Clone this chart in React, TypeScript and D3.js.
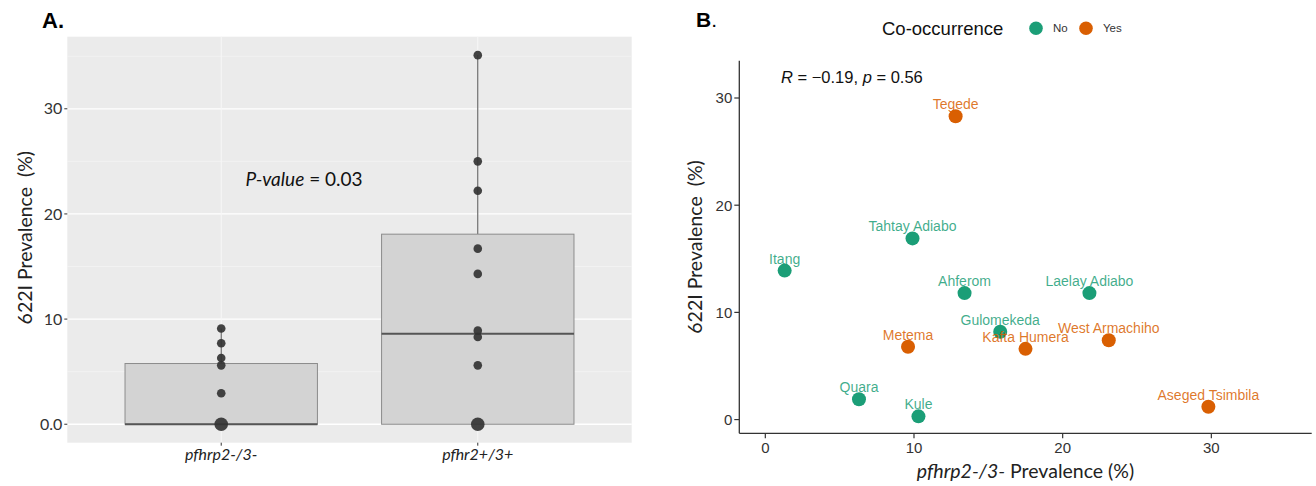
import React from "react";
import * as d3 from "d3";

// ---------- Panel A data ----------
const groups = ["pfhrp2-/3-", "pfhr2+/3+"];
const group1Values = [0, 0, 0, 0, 0, 0, 0, 2.95, 5.6, 6.3, 7.7, 9.1];
const group2Values = [0, 0, 0, 0, 5.6, 8.3, 8.9, 14.3, 16.7, 22.2, 25.0, 35.1];
const panelATicks = [0, 10, 20, 30];
const panelATickLabels = ["0.0", "10", "20", "30"];
const pValueText = "0.03";

// ---------- Panel B data ----------
const sites = ["Tegede", "Tahtay Adiabo", "Itang", "Ahferom", "Laelay Adiabo", "Gulomekeda", "Metema", "Kafta Humera", "West Armachiho", "Quara", "Kule", "Aseged Tsimbila"];
const deletionPrev = [12.8, 9.9, 1.3, 13.4, 21.8, 15.8, 9.6, 17.5, 23.1, 6.3, 10.3, 29.8];
const mutationPrev = [28.3, 16.9, 13.9, 11.8, 11.8, 8.2, 6.8, 6.6, 7.4, 1.9, 0.3, 1.2];
const coOccurrence = ["Yes", "No", "No", "No", "No", "No", "Yes", "Yes", "Yes", "No", "No", "Yes"];
const legendLevels = ["No", "Yes"];
const legendColors = ["#1b9e77", "#d95f02"];
const xLimitsB = [0, 35];
const rLabelY = 31.9;
const xTicksB = [0, 10, 20, 30];
const yTicksB = [0, 10, 20, 30];

const fontA = "Lato, 'Open Sans', sans-serif";
const fontB = "'Liberation Sans', Arial, sans-serif";
const yTitle = "622I Prevalence\u00a0\u00a0(%)";

export default function App() {
  // ----- Panel A scales -----
  const aLeft = 67.3, aRight = 631.7, aTop = 36.7, aBottom = 442.7;
  const allA = [...group1Values, ...group2Values];
  const maxA = d3.max(allA) as number;
  const minA = d3.min(allA) as number;
  const padA = 0.05 * (maxA - minA);
  const yA = d3.scaleLinear().domain([minA - padA, maxA + padA]).range([aBottom, aTop]);
  const xA = d3.scaleLinear().domain([0.4, 2.6]).range([aLeft, aRight]);
  const boxHalf = 0.375;
  const groupData = [group1Values, group2Values].map((vals, i) => {
    const s = [...vals].sort((a, b) => a - b);
    const q1 = d3.quantile(s, 0.25) as number;
    const med = d3.quantile(s, 0.5) as number;
    const q3 = d3.quantile(s, 0.75) as number;
    const iqr = q3 - q1;
    const hi = d3.max(s.filter((v) => v <= q3 + 1.5 * iqr)) as number;
    const lo = d3.min(s.filter((v) => v >= q1 - 1.5 * iqr)) as number;
    const counts = d3.rollups(s, (v) => v.length, (v) => v);
    return { i, q1, med, q3, hi, lo, counts };
  });
  const minorA = [5, 15, 25, 35];

  // ----- Panel B scales -----
  const bLeft = 739.3, bRight = 1311.7, bTop = 60.7, bBottom = 433.3;
  const padBx = 0.05 * (xLimitsB[1] - xLimitsB[0]);
  const xB = d3.scaleLinear().domain([xLimitsB[0] - padBx, xLimitsB[1] + padBx]).range([bLeft, bRight]);
  const yMinB = d3.min(mutationPrev) as number;
  const yMaxB = rLabelY;
  const padBy = 0.05 * (yMaxB - yMinB);
  const yB = d3.scaleLinear().domain([yMinB - padBy, yMaxB + padBy]).range([bBottom, bTop]);
  const color = d3.scaleOrdinal<string, string>().domain(legendLevels).range(legendColors);

  return (
    <svg width={1316} height={486} style={{ position: "absolute", left: 0, top: 0, background: "#fff" }}>
      {/* ===== Panel A ===== */}
      <text x={42} y={28} fontFamily={fontB} fontWeight="bold" fontSize={22} fill="#000">A.</text>
      <rect x={aLeft} y={aTop} width={aRight - aLeft} height={aBottom - aTop} fill="#ebebeb" />
      {minorA.map((v) => (
        <line key={"mn" + v} x1={aLeft} x2={aRight} y1={yA(v)} y2={yA(v)} stroke="#f4f4f4" strokeWidth={0.8} />
      ))}
      {panelATicks.map((v) => (
        <line key={"mj" + v} x1={aLeft} x2={aRight} y1={yA(v)} y2={yA(v)} stroke="#fff" strokeWidth={1.3} />
      ))}
      {groups.map((g, i) => (
        <line key={"vg" + g} x1={xA(i + 1)} x2={xA(i + 1)} y1={aTop} y2={aBottom} stroke="#f7f7f7" strokeWidth={1} />
      ))}
      {groupData.map((d) => {
        const cx = xA(d.i + 1);
        return (
          <g key={"box" + d.i}>
            <line x1={cx} x2={cx} y1={yA(d.q3)} y2={yA(d.hi)} stroke="#555" strokeWidth={1} />
            <line x1={cx} x2={cx} y1={yA(d.q1)} y2={yA(d.lo)} stroke="#555" strokeWidth={1} />
            <rect
              x={xA(d.i + 1 - boxHalf)}
              y={yA(d.q3)}
              width={xA(d.i + 1 + boxHalf) - xA(d.i + 1 - boxHalf)}
              height={yA(d.q1) - yA(d.q3)}
              fill="#d3d3d3"
              stroke="#8c8c8c"
              strokeWidth={1}
            />
            <line x1={xA(d.i + 1 - boxHalf)} x2={xA(d.i + 1 + boxHalf)} y1={yA(d.med)} y2={yA(d.med)} stroke="#555" strokeWidth={2} />
            {d.counts.map(([v, c]) => (
              <circle key={"pt" + v} cx={cx} cy={yA(v)} r={c > 1 ? 6.8 : 4.3} fill="#333" fillOpacity={0.92} />
            ))}
          </g>
        );
      })}
      {panelATicks.map((v, i) => (
        <g key={"ta" + v}>
          <line x1={aLeft - 3} x2={aLeft} y1={yA(v)} y2={yA(v)} stroke="#333" strokeWidth={1} />
          <text x={aLeft - 5} y={yA(v)} dy="0.35em" textAnchor="end" fontFamily={fontA} fontSize={16} fill="#333">
            {panelATickLabels[i]}
          </text>
        </g>
      ))}
      {groups.map((g, i) => (
        <g key={"xa" + g}>
          <line x1={xA(i + 1)} x2={xA(i + 1)} y1={aBottom} y2={aBottom + 3} stroke="#333" strokeWidth={1} />
          <text x={xA(i + 1)} y={460} textAnchor="middle" fontFamily={fontA} fontStyle="italic" fontSize={16} fill="#222">
            {g}
          </text>
        </g>
      ))}
      <text
        transform={`translate(24,${(aTop + aBottom) / 2 - 2}) rotate(-90)`}
        textAnchor="middle"
        dominantBaseline="central"
        fontFamily={fontA}
        fontSize={19.5}
        fill="#222"
      >
        {yTitle}
      </text>
      <text x={304} y={186} textAnchor="middle" fontFamily={fontA} fontSize={19} fill="#111">
        <tspan fontStyle="italic">P-value</tspan> = {pValueText}
      </text>

      {/* ===== Panel B ===== */}
      <text x={696} y={27} fontFamily={fontB} fontWeight="bold" fontSize={21} fill="#000">B<tspan fontWeight="normal">.</tspan></text>
      <text x={882} y={35} fontFamily={fontB} fontSize={18.5} fill="#111">Co-occurrence</text>
      {legendLevels.map((l, i) => (
        <g key={"lg" + l}>
          <circle cx={1036 + i * 50} cy={28.3} r={6.8} fill={color(l)} />
          <text x={1053 + i * 50} y={32.3} fontFamily={fontB} fontSize={11.5} fill="#333">{l}</text>
        </g>
      ))}
      <line x1={bLeft} x2={bLeft} y1={bTop} y2={bBottom} stroke="#333" strokeWidth={1.3} />
      <line x1={bLeft} x2={bRight} y1={bBottom} y2={bBottom} stroke="#333" strokeWidth={1.3} />
      {yTicksB.map((v) => (
        <g key={"yb" + v}>
          <line x1={bLeft - 5} x2={bLeft} y1={yB(v)} y2={yB(v)} stroke="#333" strokeWidth={1.2} />
          <text x={bLeft - 7} y={yB(v)} dy="0.36em" textAnchor="end" fontFamily={fontB} fontSize={15} fill="#333">{v}</text>
        </g>
      ))}
      {xTicksB.map((v) => (
        <g key={"xb" + v}>
          <line x1={xB(v)} x2={xB(v)} y1={bBottom} y2={bBottom + 5} stroke="#333" strokeWidth={1.2} />
          <text x={xB(v)} y={453} textAnchor="middle" fontFamily={fontB} fontSize={15} fill="#333">{v}</text>
        </g>
      ))}
      <text
        transform={`translate(694,${(bTop + bBottom) / 2}) rotate(-90)`}
        textAnchor="middle"
        dominantBaseline="central"
        fontFamily={fontA}
        fontSize={19.5}
        fill="#222"
      >
        {yTitle}
      </text>
      <text x={(bLeft + bRight) / 2} y={478} textAnchor="middle" fontFamily={fontA} fontSize={19.5} fill="#222">
        <tspan fontStyle="italic">pfhrp2-/3-</tspan> Prevalence (%)
      </text>
      <text x={781} y={83} fontFamily={fontB} fontSize={16.5} fill="#111">
        <tspan fontStyle="italic">R</tspan> = −0.19, <tspan fontStyle="italic">p</tspan> = 0.56
      </text>
      {sites.map((s, i) => (
        <g key={"pt" + s}>
          <circle cx={xB(deletionPrev[i])} cy={yB(mutationPrev[i])} r={7} fill={color(coOccurrence[i])} />
          <text
            x={xB(deletionPrev[i])}
            y={yB(mutationPrev[i]) - 7}
            textAnchor="middle"
            fontFamily={fontB}
            fontSize={14}
            fill={color(coOccurrence[i])}
            fillOpacity={0.85}
          >
            {s}
          </text>
        </g>
      ))}
    </svg>
  );
}
